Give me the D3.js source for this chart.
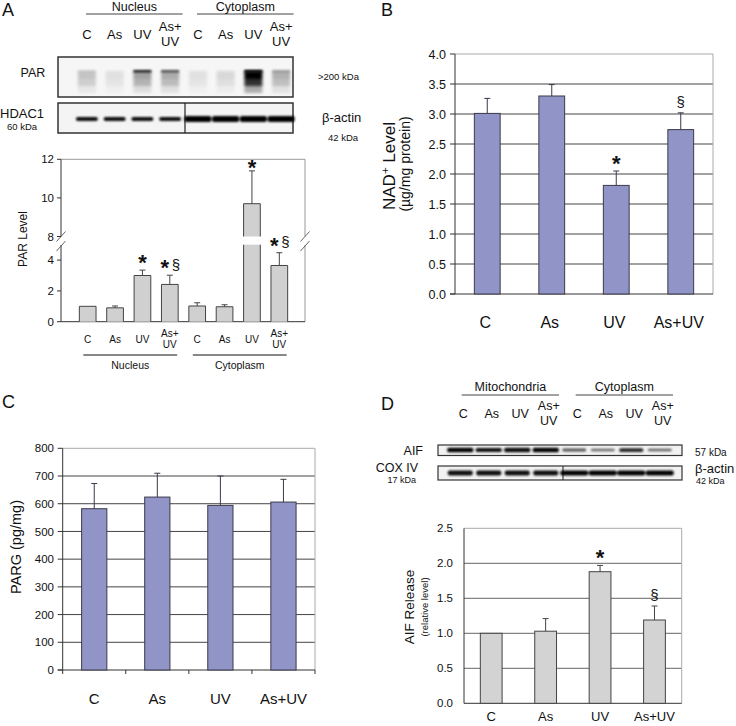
<!DOCTYPE html>
<html><head><meta charset="utf-8">
<script src="https://cdn.jsdelivr.net/npm/d3@7"></script>
<style>body{margin:0;background:#fff}</style>
</head><body><svg id="fig" width="736" height="726"></svg>
<script>
// ---------- DATA ----------
const categories = ["C", "As", "UV", "As+UV"];
const fractionsA = ["Nucleus", "Cytoplasm"];
const fractionsD = ["Mitochondria", "Cytoplasm"];
// Panel A
const parLevel = [1.0, 0.9, 3.0, 2.42, 1.02, 0.97, 9.7, 3.65];
const parErr = [0, 0.12, 0.35, 0.6, 0.21, 0.13, 1.7, 0.83];
const parMarks = ["", "", "*", "*§", "", "", "*", "*§"];
const parTicksLow = [0, 2, 4];
const parTicksHigh = [8, 10, 12];
const parSmear = [0.2, 0.09, 0.34, 0.3, 0.09, 0.12, 1.0, 0.28];
const parTopBand = [0.08, 0, 0.85, 0.6, 0, 0, 1.0, 0.25];
const hdacBand = [0.95, 0.95, 0.95, 0.95, 1, 1, 1, 1];
// Panel B
const nadLevel = [3.01, 3.30, 1.81, 2.74];
const nadErr = [0.25, 0.19, 0.24, 0.28];
const nadMarks = ["", "", "*", "§"];
const nadTicks = [0, 0.5, 1.0, 1.5, 2.0, 2.5, 3.0, 3.5, 4.0];
// Panel C
const pargLevel = [582, 624, 594, 606];
const pargErr = [91, 86, 106, 82];
const pargTicks = [0, 100, 200, 300, 400, 500, 600, 700, 800];
// Panel D
const aifLevel = [1.0, 1.03, 1.88, 1.19];
const aifErr = [0, 0.18, 0.09, 0.2];
const aifMarks = ["", "", "*", "§"];
const aifTicks = [0, 0.5, 1.0, 1.5, 2.0, 2.5];
const aifBand = [1.0, 0.9, 0.92, 1.0, 0.45, 0.3, 0.75, 0.35];
const coxBand = [0.95, 0.95, 0.95, 0.95, 1, 1, 1, 1];

// ---------- HELPERS ----------
const FONT = "'Liberation Sans', Arial, sans-serif";
const svg = d3.select("#fig");
svg.append("rect").attr("width", 736).attr("height", 726).attr("fill", "#fff");
const defs = svg.append("defs");
[["blur", 0.8], ["blur2", 1.8]].forEach(([id, s]) => {
  defs.append("filter").attr("id", id).attr("x", "-50%").attr("y", "-100%")
    .attr("width", "200%").attr("height", "300%")
    .append("feGaussianBlur").attr("stdDeviation", s);
});

function txt(g, x, y, s, size, anchor = "middle", extra = {}) {
  const t = g.append("text").attr("x", x).attr("y", y).text(s)
    .attr("font-family", FONT).attr("font-size", size)
    .attr("text-anchor", anchor).attr("fill", extra.fill || "#111");
  if (extra.weight) t.attr("font-weight", extra.weight);
  return t;
}
function line(g, x1, y1, x2, y2, color = "#111", w = 1) {
  g.append("line").attr("x1", x1).attr("y1", y1).attr("x2", x2).attr("y2", y2)
    .attr("stroke", color).attr("stroke-width", w);
}
function laneLabel(g, x, yBase, label, size, gap) {
  if (label.includes("+")) {
    const parts = label.split("+");
    txt(g, x, yBase - gap * 0.55, parts[0] + "+", size);
    txt(g, x, yBase + gap * 0.45, parts[1], size);
  } else txt(g, x, yBase, label, size);
}
function marks(g, x, yc, m, starSize, secSize) {
  const chars = Array.from(m);
  if (!chars.length) return;
  const both = chars.length > 1;
  chars.forEach((c, i) => {
    const dx = both ? (i === 0 ? -5 : 6) : 0;
    if (c === "*") txt(g, x + dx, yc + starSize * 0.5, "*", starSize, "middle", {weight: "bold"});
    else txt(g, x + dx, yc + secSize * 0.36, "§", secSize);
  });
}
function errBar(g, cx, yTop, yEnd, color) {
  line(g, cx, yTop, cx, yEnd, color, 1);
  line(g, cx - 3, yEnd, cx + 3, yEnd, color, 1);
}

// ---------- PANEL A : blots ----------
const gA = svg.append("g");
txt(gA, 2, 16, "A", 18, "start");
const laneA = d3.scaleBand().domain(d3.range(8)).range([73, 295]);
const cA = i => laneA(i) + laneA.step() / 2;
fractionsA.forEach((f, k) => {
  const x1 = laneA(k * 4) + laneA.step() * 0.47, x2 = laneA(k * 4 + 3) + laneA.step() * 0.95;
  line(gA, x1, 14, x2, 14, "#444", 1);
  txt(gA, (x1 + x2) / 2, 10.5, f, 12.5);
});
d3.range(8).forEach(i => laneLabel(gA, cA(i), 39, categories[i % 4], 13, 15));

// PAR blot
gA.append("rect").attr("x", 58).attr("y", 57).attr("width", 235).attr("height", 40)
  .attr("fill", "#f6f6f6").attr("stroke", "#333").attr("stroke-width", 1.5);
const parG = gA.append("g").attr("filter", "url(#blur2)");
parSmear.forEach((v, i) => {
  const x = cA(i) - 9;
  parG.append("rect").attr("x", x).attr("y", 71).attr("width", 18).attr("height", 8).attr("fill", "#000").attr("opacity", v);
  parG.append("rect").attr("x", x).attr("y", 79).attr("width", 18).attr("height", 7).attr("fill", "#000").attr("opacity", v * 0.8);
  parG.append("rect").attr("x", x).attr("y", 86).attr("width", 18).attr("height", 7).attr("fill", "#000").attr("opacity", v * 0.3);
});
const parTop = gA.append("g").attr("filter", "url(#blur)");
parTopBand.forEach((v, i) => {
  if (v > 0) parTop.append("rect").attr("x", cA(i) - 9).attr("y", 70).attr("width", 18).attr("height", 2.5)
    .attr("fill", "#000").attr("opacity", v);
});
txt(gA, 33, 77, "PAR", 12.5);
txt(gA, 318, 80, ">200 kDa", 9.5, "start");

// HDAC1 / beta-actin blot
gA.append("rect").attr("x", 58).attr("y", 103).attr("width", 235).attr("height", 30)
  .attr("fill", "#f4f4f4").attr("stroke", "#333").attr("stroke-width", 1.5);
line(gA, 185, 103, 185, 133, "#222", 1.2);
const hdG = gA.append("g").attr("filter", "url(#blur)");
hdacBand.forEach((v, i) => {
  const w = i < 4 ? 22 : 27, h = i < 4 ? 4 : 6;
  hdG.append("rect").attr("x", cA(i) - w / 2).attr("y", 119 - h / 2).attr("width", w).attr("height", h)
    .attr("rx", 2).attr("fill", "#000").attr("opacity", v);
});
txt(gA, 0, 118, "HDAC1", 13, "start");
txt(gA, 7, 130, "60 kDa", 9.5, "start");
txt(gA, 322, 122, "β-actin", 13, "start");
txt(gA, 328, 141, "42 kDa", 9.5, "start");

// ---------- PANEL A : chart ----------
const xA = d3.scaleBand().domain(d3.range(8)).range([74, 293]).paddingInner(0.39).paddingOuter(0.195);
const yLow = d3.scaleLinear().domain([0, 5]).range([321.7, 244.7]);
const yHigh = d3.scaleLinear().domain([8, 12]).range([236.5, 159.3]);
const yA = v => v <= 5 ? yLow(v) : yHigh(v);
const axL = 61, axR = 305;
line(gA, axL, 159.3, axR, 159.3, "#999", 1);
line(gA, axR, 159.3, axR, 236.5, "#999", 1);
line(gA, axR, 245, axR, 321.7, "#999", 1);
line(gA, axL, 159.3, axL, 236.5, "#333", 1);
line(gA, axL, 245, axL, 321.7, "#333", 1);
line(gA, axL, 321.7, axR, 321.7, "#333", 1);
[axL, axR].forEach(x => {
  [236.5, 246].forEach(yc => line(gA, x - 4.5, yc + 5, x + 4.5, yc - 5, "#555", 0.9));
});
parTicksLow.forEach(t => { line(gA, axL - 4, yLow(t), axL, yLow(t), "#333"); txt(gA, axL - 7, yLow(t) + 4, t, 11.5, "end"); });
parTicksHigh.forEach(t => { line(gA, axL - 4, yHigh(t), axL, yHigh(t), "#333"); txt(gA, axL - 7, yHigh(t) + 4, t, 11.5, "end"); });
txt(gA, 0, 0, "PAR Level", 12, "middle").attr("transform", "translate(27,239) rotate(-90)");
parLevel.forEach((v, i) => {
  const x = xA(i), w = xA.bandwidth(), y0 = yLow(0);
  if (v <= 5) {
    gA.append("rect").attr("x", x).attr("y", yLow(v)).attr("width", w).attr("height", y0 - yLow(v)).attr("fill", "#d0d0d0");
    gA.append("path").attr("d", `M${x},${y0}V${yLow(v)}H${x + w}V${y0}`).attr("fill", "none").attr("stroke", "#444");
  } else {
    gA.append("rect").attr("x", x).attr("y", yLow(5)).attr("width", w).attr("height", y0 - yLow(5)).attr("fill", "#d0d0d0");
    gA.append("rect").attr("x", x).attr("y", yHigh(v)).attr("width", w).attr("height", yHigh(8) - yHigh(v)).attr("fill", "#d0d0d0");
    gA.append("path").attr("d", `M${x},${y0}V${yLow(5)}M${x + w},${y0}V${yLow(5)}M${x},${yHigh(8)}V${yHigh(v)}H${x + w}V${yHigh(8)}`)
      .attr("fill", "none").attr("stroke", "#444");
  }
  const cx = x + w / 2;
  if (parErr[i] > 0) errBar(gA, cx, yA(v), yA(v + parErr[i]), "#444");
  marks(gA, cx, Math.max(yA(v + parErr[i]) - 11, 164), parMarks[i], 22, 15);
  laneLabel(gA, cx, 343, categories[i % 4], 10, 11);
});
fractionsA.forEach((f, k) => {
  const x1 = xA(k * 4) + 4, x2 = xA(k * 4 + 3) + xA.bandwidth() - 1;
  line(gA, x1, 355, x2, 355, "#111", 1);
  txt(gA, (x1 + x2) / 2, 369, f, 10.5);
});

// ---------- generic bar chart (B, C, D) ----------
function barChart(g, o) {
  const x = d3.scaleBand().domain(categories).range([o.x0, o.x1]).paddingInner(0.6).paddingOuter(0.3);
  const y = d3.scaleLinear().domain([0, o.max]).range([o.y0, o.y1]);
  o.ticks.forEach(t => {
    if (t === 0) return;
    const top = t === o.max;
    line(g, o.x0, y(t), o.x1, y(t), top ? "#aaa" : o.gridColor, 1);
  });
  line(g, o.x1, y(o.max), o.x1, y(0), "#aaa", 1);
  line(g, o.x0, y(o.max), o.x0, y(0), "#333", 1);
  line(g, o.x0 - (o.ytick ? 5 : 0), y(0), o.x1, y(0), "#333", 1);
  o.ticks.forEach(t => {
    if (o.ytick) line(g, o.x0 - 5, y(t), o.x0, y(t), "#333", 1);
    txt(g, o.labelX, y(t) + o.tickSize * 0.36, o.fmt(t), o.tickSize, "end");
  });
  if (o.xticks) {
    d3.range(5).forEach(i => { const xx = o.x0 + i * x.step(); line(g, xx, y(0), xx, y(0) + 4, "#333", 1); });
  }
  o.values.forEach((v, i) => {
    const c = categories[i], bx = x(c), w = x.bandwidth();
    g.append("rect").attr("x", bx).attr("y", y(v)).attr("width", w).attr("height", y(0) - y(v))
      .attr("fill", o.fill).attr("stroke", o.stroke).attr("stroke-width", 1);
    const cx = bx + w / 2;
    if (o.err[i] > 0) errBar(g, cx, y(v), y(v + o.err[i]), o.stroke);
    if (o.marks) marks(g, cx, y(v + o.err[i]) - 11, o.marks[i], 22, 15);
    txt(g, cx + (o.xlabDx || 0), o.xlabY, c, o.xlabSize);
  });
  return {x, y};
}

// ---------- PANEL B ----------
const gB = svg.append("g");
txt(gB, 381, 16, "B", 18, "start");
barChart(gB, {
  x0: 455, x1: 713, y0: 294, y1: 54, max: 4, ticks: nadTicks, fmt: d3.format(".1f"),
  values: nadLevel, err: nadErr, marks: nadMarks, fill: "#9194c6", stroke: "#3a3a4a",
  gridColor: "#444", labelX: 446, tickSize: 12.5, ytick: true,
  xlabY: 328, xlabSize: 16, xlabDx: -2
});
const nadLab = txt(gB, 0, 0, "", 17, "middle").attr("transform", "translate(395,166) rotate(-90)");
nadLab.append("tspan").text("NAD");
nadLab.append("tspan").text("+").attr("font-size", 11.5).attr("dy", -6);
nadLab.append("tspan").text(" Level").attr("dy", 6);
txt(gB, 0, 0, "(µg/mg protein)", 14, "middle").attr("transform", "translate(410,164) rotate(-90)");

// ---------- PANEL C ----------
const gC = svg.append("g");
txt(gC, 2, 408, "C", 18, "start");
barChart(gC, {
  x0: 62.7, x1: 315, y0: 670, y1: 448.3, max: 800, ticks: pargTicks, fmt: d3.format("d"),
  values: pargLevel, err: pargErr, marks: null, fill: "#9194c6", stroke: "#3a3a4a",
  gridColor: "#444", labelX: 54, tickSize: 11.5, ytick: true, xticks: true,
  xlabY: 704, xlabSize: 15
});
txt(gC, 0, 0, "PARG (pg/mg)", 14.5, "middle").attr("transform", "translate(21,547) rotate(-90)");

// ---------- PANEL D : blots ----------
const gD = svg.append("g");
txt(gD, 381, 410, "D", 18, "start");
const laneD = d3.scaleBand().domain(d3.range(8)).range([446, 674]);
const cD = i => laneD(i) + laneD.step() / 2;
fractionsD.forEach((f, k) => {
  const x1 = laneD(k * 4) + laneD.step() * 0.55, x2 = laneD(k * 4 + 3) + laneD.step() - 1;
  line(gD, x1, 395, x2, 395, "#444", 1);
  txt(gD, (x1 + x2) / 2, 391, f, 12.5);
});
d3.range(8).forEach(i => laneLabel(gD, cD(i) + 3, 418, categories[i % 4], 12.5, 15));
gD.append("rect").attr("x", 438).attr("y", 445).attr("width", 244).attr("height", 10.5)
  .attr("fill", "#f2f2f2").attr("stroke", "#333").attr("stroke-width", 1.2);
const aG = gD.append("g").attr("filter", "url(#blur)");
aifBand.forEach((v, i) => {
  const h = 1.5 + 3 * v, w = i < 4 ? 26 : 24;
  aG.append("rect").attr("x", cD(i) - w / 2).attr("y", 450 - h / 2).attr("width", w).attr("height", h)
    .attr("rx", 1.5).attr("fill", "#000").attr("opacity", 0.4 + 0.6 * v);
});
txt(gD, 423, 455, "AIF", 12.5, "end");
txt(gD, 695, 456, "57 kDa", 10, "start");
gD.append("rect").attr("x", 438).attr("y", 466).attr("width", 244).attr("height", 14)
  .attr("fill", "#f2f2f2").attr("stroke", "#333").attr("stroke-width", 1.2);
line(gD, 563, 466, 563, 480, "#222", 1);
const cG = gD.append("g").attr("filter", "url(#blur)");
coxBand.forEach((v, i) => {
  const w = i < 4 ? 25 : 28;
  cG.append("rect").attr("x", cD(i) - w / 2).attr("y", 473 - 2.6).attr("width", w).attr("height", 5.2)
    .attr("rx", 2).attr("fill", "#000").attr("opacity", v);
});
txt(gD, 418, 472, "COX IV", 12.5, "end");
txt(gD, 416, 483, "17 kDa", 9, "end");
txt(gD, 695, 473, "β-actin", 13, "start");
txt(gD, 696, 484, "42 kDa", 9, "start");

// ---------- PANEL D : chart ----------
barChart(gD, {
  x0: 464, x1: 681.7, y0: 703.3, y1: 528.3, max: 2.5, ticks: aifTicks, fmt: d3.format(".1f"),
  values: aifLevel, err: aifErr, marks: aifMarks, fill: "#d3d3d3", stroke: "#444",
  gridColor: "#666", labelX: 453, tickSize: 11.5, ytick: false,
  xlabY: 721, xlabSize: 13
});
txt(gD, 0, 0, "AIF Release", 13.5, "middle").attr("transform", "translate(414,607) rotate(-90)");
txt(gD, 0, 0, "(relative level)", 9.5, "middle").attr("transform", "translate(428,607) rotate(-90)");
</script></body></html>
